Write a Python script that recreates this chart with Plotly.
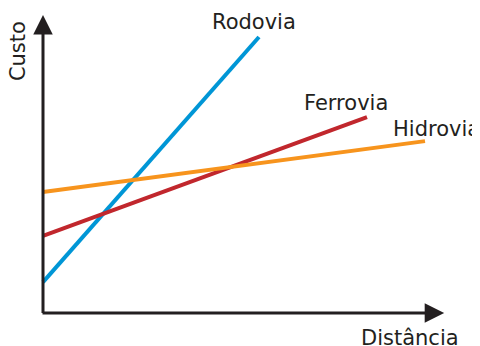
import plotly.graph_objects as go

# Cost vs distance for three transport modes (schematic, no units)
modes = ["Rodovia", "Ferrovia", "Hidrovia"]
colors = ["#0096d6", "#c1272d", "#f7941d"]
dist_start = [0, 0, 0]
dist_end = [54, 81, 95.5]
cost_start = [10.3, 25.7, 40.3]
cost_end = [92, 65.3, 57.3]

label_x = [41.75, 64.7, 87]
label_y = [97, 70, 61.3]

AXIS = "#231f20"
FONT = "DejaVu Sans"

fig = go.Figure()
for name, c, x0, x1, y0, y1 in zip(modes, colors, dist_start, dist_end, cost_start, cost_end):
    fig.add_trace(go.Scatter(
        x=[x0, x1], y=[y0, y1],
        mode="lines",
        line=dict(color=c, width=4),
        name=name,
        showlegend=False,
        hoverinfo="skip",
    ))

# line labels
for name, lx, ly in zip(modes, label_x, label_y):
    fig.add_annotation(x=lx, y=ly, text=name, showarrow=False,
                       xanchor="left", yanchor="middle",
                       font=dict(family=FONT, size=21, color="#231f20"))

# axes drawn as arrows
fig.add_annotation(x=100.3, y=0, ax=-0.5, ay=0, xref="x", yref="y", axref="x", ayref="y",
                   text="", showarrow=True, arrowhead=2, arrowsize=1.3, arrowwidth=3,
                   arrowcolor=AXIS, standoff=0)
fig.add_annotation(x=0, y=99.3, ax=0, ay=-0.5, xref="x", yref="y", axref="x", ayref="y",
                   text="", showarrow=True, arrowhead=2, arrowsize=1.3, arrowwidth=3,
                   arrowcolor=AXIS, standoff=0)

fig.add_annotation(x=91.75, y=-8.3, text="Distância", showarrow=False,
                   xanchor="center", yanchor="middle",
                   font=dict(family=FONT, size=21, color="#231f20"))
fig.add_annotation(x=-6.25, y=87.3, text="Custo", showarrow=False, textangle=-90,
                   xanchor="center", yanchor="middle",
                   font=dict(family=FONT, size=21, color="#231f20"))

# page has an 8px body margin, so the figure is 8px smaller and offset
fig.update_xaxes(range=[-8.75, 109.25], visible=False, fixedrange=True)
fig.update_yaxes(range=[-11, 101.67], visible=False, fixedrange=True)
fig.update_layout(
    width=472, height=338,
    margin=dict(l=0, r=0, t=0, b=0),
    plot_bgcolor="white", paper_bgcolor="white",
)

fig.write_html("out.html")
